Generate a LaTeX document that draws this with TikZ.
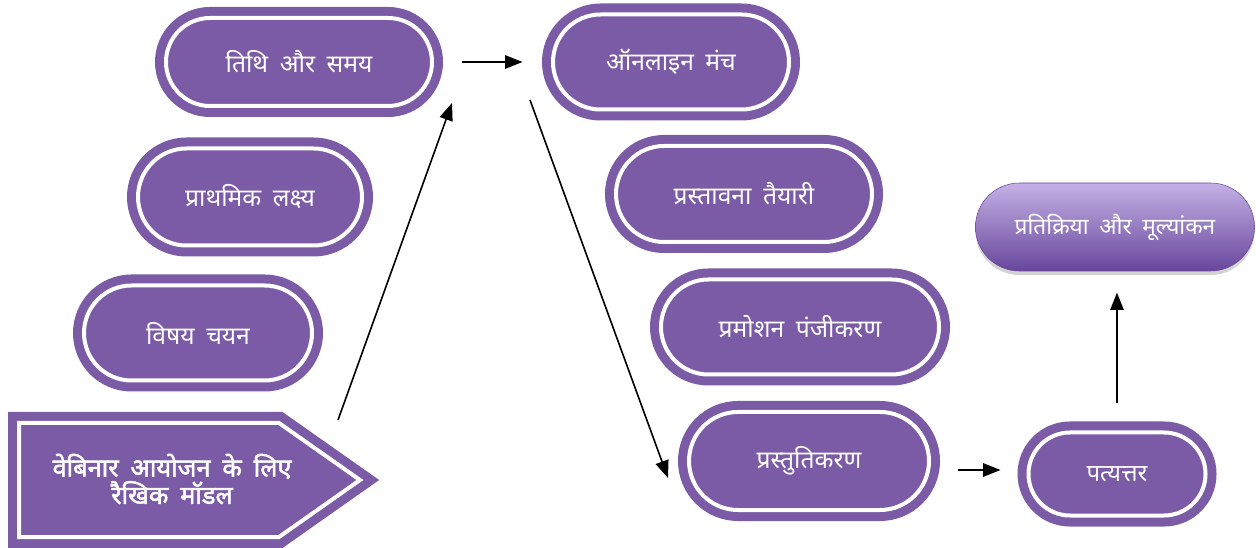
\documentclass[tikz,border=0pt]{standalone}
\usepackage{fontspec}
\setmainfont[Script=Devanagari, WordSpace=1.8]{Noto Sans}
\newfontfamily\devbold[Script=Devanagari, WordSpace=1.8, FakeBold=2.2]{Noto Sans}
\usetikzlibrary{arrows.meta,shadows,shapes.misc}
\definecolor{vio}{HTML}{7B5AA6}
\definecolor{glosstop}{HTML}{C4B1E6}
\definecolor{glossmid}{HTML}{8C69C2}
\definecolor{glossbot}{HTML}{68469C}

\begin{document}
\begin{tikzpicture}[x=0.75pt, y=-0.75pt,
    stage/.style={rounded rectangle, fill=vio, draw=vio,
      double=white, double distance=3pt, line width=6.75pt,
      text=white, font=\fontsize{18.5}{22}\selectfont, inner sep=0pt},
    link/.style={-{Triangle[length=13pt,width=10pt]}, line width=1.2pt}]

\useasboundingbox (0,0) rectangle (1256,548);

% Starting block (left, bottom)
\draw[vio, fill=vio, double=white, double distance=3pt, line width=6.75pt]
  (19,423) -- (279,423) -- (360,480) -- (279,537) -- (19,537) -- cycle;
\node[text=white, align=center, font=\fontsize{19}{20.5}\selectfont\devbold] (model) at (172,479)
  {वेबिनार आयोजन के लिए\\रैखिक मॉडल};

% Left column
\node[stage, minimum width=171pt, minimum height=71.25pt] (topic) at (198,333) {विषय चयन};
\node[stage, minimum width=168pt, minimum height=72.75pt] (goal) at (250,197) {प्राथमिक लक्ष्य};
\node[stage, minimum width=199.5pt, minimum height=66pt] (date) at (299,62) {तिथि और समय};

% Right column
\node[stage, minimum width=177pt, minimum height=71.25pt] (online) at (671,62) {ऑनलाइन मंच};
\node[stage, minimum width=192pt, minimum height=72pt] (prep) at (744,194) {प्रस्तावना तैयारी};
\node[stage, minimum width=208.5pt, minimum height=71.25pt] (promo) at (800,327) {प्रमोशन पंजीकरण};
\node[stage, minimum width=180pt, minimum height=73.5pt] (pres) at (809,461) {प्रस्तुतिकरण};
\node[stage, minimum width=132.75pt, minimum height=62.25pt, font=\fontsize{18}{21}\selectfont] (reply) at (1117,474) {पत्यत्तर};

% Feedback (glossy)
\node[rounded rectangle, minimum width=216pt, minimum height=66pt,
  top color=glosstop, middle color=glossmid, bottom color=glossbot,
  draw=glossbot, line width=0.4pt, text=white, font=\fontsize{17}{20}\selectfont,
  drop shadow={shadow xshift=0pt, shadow yshift=-3pt, opacity=0.35}] (review) at (1115,227)
  {प्रतिक्रिया और मूल्यांकन};

% Connectors
\coordinate (m-out) at (338,420);
\coordinate (d-in) at (452,103);
\coordinate (o-out) at (530,100);
\coordinate (p-in) at (668,478);
\coordinate (g-out) at ([xshift=18pt,yshift=-6.75pt]pres.east);

\draw[link] (m-out) -- (d-in);
\draw[link, shorten <=18.75pt, shorten >=19.5pt] (date.east) -- (online.west);
\draw[link] (o-out) -- (p-in);
\draw[link] (g-out) -- ([xshift=-17.6pt]reply.west |- g-out);
\draw[link, shorten <=19pt, shorten >=16pt] (reply.north) -- (reply.north |- review.south);

\end{tikzpicture}
\end{document}
